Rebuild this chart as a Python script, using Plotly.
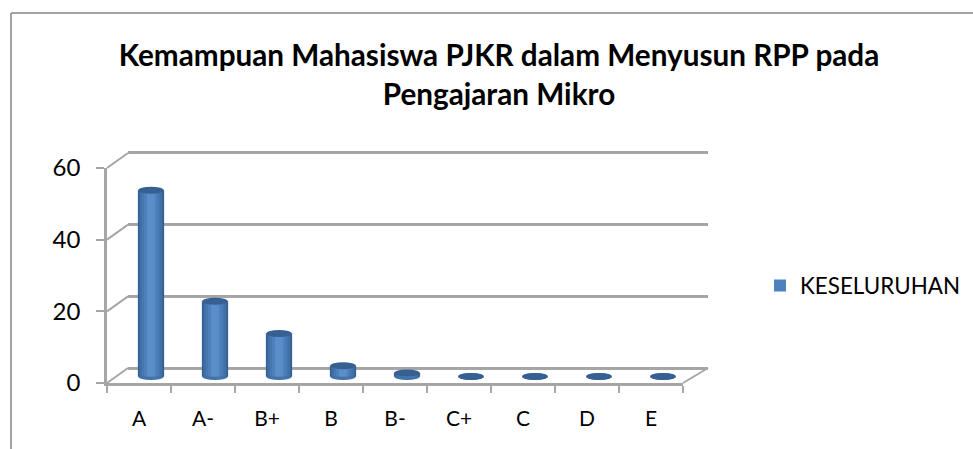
import plotly.graph_objects as go

W, H = 973, 449

categories = ['A', 'A-', 'B+', 'B', 'B-', 'C+', 'C', 'D', 'E']
values = [52, 21, 12, 3, 1, 0, 0, 0, 0]
y_ticks = [0, 20, 40, 60]

title = 'Kemampuan Mahasiswa PJKR dalam Menyusun RPP pada<br>Pengajaran Mikro'
series_name = 'KESELURUHAN'

# fake cylinder: bars stacked on top of each other, wide+dark to narrow+light
bar_layers = [
    (0.41, '#34608f'),
    (0.36, '#3f6fa8'),
    (0.29, '#4777b2'),
    (0.21, '#4f81bd'),
    (0.12, '#5a8ecb'),
]
CAP_COLOR = '#376092'
BASE_COLOR = '#4472a8'
GRID_COLOR = '#a6a6a6'
FRAME_COLOR = '#868686'
FONT = 'Lato'


def px_x(x):
    return x / W


def px_y(y):
    return 1 - y / H


# pixel boxes of the fake-3D planes
FRONT = (107, 683, 383, 168)
BACK = (128, 708, 368, 153)
# back wall axis gets one unit extra each way, plotly skips gridlines on the edges
GRID = (128, 708, 371.6, 149.4)
# bar plane runs a bit under zero so the round bottoms are not clipped
BARS = (119, 695, 387.25, 161.5)


def dom_x(box):
    return [px_x(box[0]), px_x(box[1])]


def dom_y(box):
    return [px_y(box[2]), px_y(box[3])]


fig = go.Figure()

# empty traces, plotly only draws axes that have something on them
for xa, ya in [('x', 'y'), ('x2', 'y2')]:
    fig.add_trace(go.Scatter(x=categories, y=values, mode='none', xaxis=xa, yaxis=ya,
                             showlegend=False, hoverinfo='skip'))

for width, color in bar_layers:
    fig.add_trace(go.Bar(
        x=categories, y=values, width=width, xaxis='x3', yaxis='y3',
        marker=dict(color=color, line=dict(width=0)),
        name=series_name, showlegend=color == '#4f81bd',
        hoverinfo='skip',
    ))

shapes = []

# page frame, only top and left are visible
for x0, y0, x1, y1 in [(11, 13, W, 13), (11, 13, 11, H)]:
    shapes.append(dict(type='line', xref='paper', yref='paper',
                       x0=px_x(x0), y0=px_y(y0), x1=px_x(x1), y1=px_y(y1),
                       line=dict(color=FRAME_COLOR, width=1.5)))

# depth lines going from the front axis to the back wall
for tick in y_ticks:
    frac = tick / 60
    y_front = FRONT[2] + (FRONT[3] - FRONT[2]) * frac
    y_back = BACK[2] + (BACK[3] - BACK[2]) * frac
    shapes.append(dict(type='line', xref='paper', yref='paper',
                       x0=px_x(FRONT[0]), y0=px_y(y_front),
                       x1=px_x(BACK[0]), y1=px_y(y_back),
                       line=dict(color=GRID_COLOR, width=2)))
shapes.append(dict(type='line', xref='paper', yref='paper',
                   x0=px_x(FRONT[1]), y0=px_y(FRONT[2]),
                   x1=px_x(BACK[1]), y1=px_y(BACK[2]),
                   line=dict(color=GRID_COLOR, width=2)))

# cylinder ends
for i, v in enumerate(values):
    shapes.append(dict(type='circle', xref='x3', yref='y3', ysizemode='pixel',
                       yanchor=0, y0=-3.5, y1=3.5,
                       x0=i - 0.2, x1=i + 0.2, layer='below',
                       fillcolor=BASE_COLOR, line=dict(width=0)))
    shapes.append(dict(type='circle', xref='x3', yref='y3', ysizemode='pixel',
                       yanchor=v, y0=-3.5, y1=3.5,
                       x0=i - 0.2, x1=i + 0.2,
                       fillcolor=CAP_COLOR, line=dict(width=0)))

fig.update_layout(
    width=W, height=H,
    margin=dict(l=0, r=0, t=0, b=0, autoexpand=False),
    paper_bgcolor='white', plot_bgcolor='rgba(0,0,0,0)',
    font=dict(family=FONT, color='black'),
    barmode='overlay',
    title=dict(text=title, x=499 / W, xanchor='center', y=1 - 66 / H, yanchor='top',
               font=dict(family=FONT, size=29.7, color='black', weight='bold')),
    legend=dict(x=px_x(760), xanchor='left', y=px_y(286), yanchor='middle',
                font=dict(family=FONT, size=22.4, color='black'),
                bgcolor='rgba(0,0,0,0)'),
    shapes=shapes,
    # back wall gridlines
    xaxis=dict(domain=dom_x(GRID), anchor='y', type='category', range=[-0.5, 8.5],
               showgrid=False, showticklabels=False,
               ticks='', showline=False, zeroline=False),
    yaxis=dict(domain=dom_y(GRID), anchor='x', range=[-1, 61], tickvals=y_ticks,
               showticklabels=False, ticks='', showline=False, zeroline=False,
               showgrid=True, gridcolor=GRID_COLOR, gridwidth=2.5),
    # front axes with the labels
    xaxis2=dict(domain=dom_x(FRONT), anchor='y2', type='category',
                categoryorder='array', categoryarray=categories,
                tickmode='array', tickvals=categories, ticktext=categories,
                range=[-0.5, 8.5], tickson='boundaries', ticks='outside', ticklen=7,
                tickwidth=2, tickcolor=GRID_COLOR, showgrid=False, zeroline=False,
                showline=True, linecolor=GRID_COLOR, linewidth=2.5,
                ticklabelstandoff=15,
                tickfont=dict(family=FONT, size=21)),
    yaxis2=dict(domain=dom_y(FRONT), anchor='x2', range=[0, 60], tickvals=y_ticks,
                ticks='outside', ticklen=8, tickwidth=2, tickcolor=GRID_COLOR,
                showgrid=False, zeroline=False, showline=True,
                linecolor=GRID_COLOR, linewidth=2.5,
                ticklabelstandoff=11,
                tickfont=dict(family=FONT, size=24)),
    # bars, sitting half way in the depth
    xaxis3=dict(domain=dom_x(BARS), anchor='y3', type='category',
                categoryorder='array', categoryarray=categories,
                range=[-0.5, 8.5], visible=False),
    yaxis3=dict(domain=dom_y(BARS), anchor='x3', range=[-3, 60], visible=False),
)

fig.write_html('out.html', config=dict(displayModeBar=False),
               post_script="document.body.style.margin='0';")
